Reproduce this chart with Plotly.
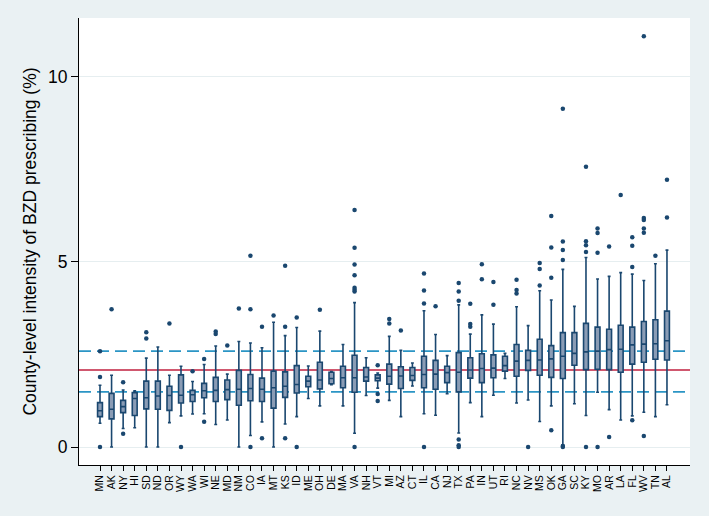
import plotly.graph_objects as go

states = ["MN", "AK", "NY", "HI", "SD", "ND", "OR", "WY", "WA", "WI",
          "NE", "MD", "NM", "CO", "IA", "MT", "KS", "ID", "ME", "OH",
          "DE", "MA", "VA", "NH", "VT", "MI", "AZ", "CT", "IL", "CA",
          "NJ", "TX", "PA", "IN", "UT", "RI", "NC", "NV", "MS", "OK",
          "GA", "SC", "KY", "MO", "AR", "LA", "FL", "WV", "TN", "AL"]

lower_whisker = [0.64, 0.00, 0.50, 0.52, 0.00, 0.00, 0.66, 0.84, 0.89, 0.90,
                 0.61, 0.73, 0.00, 0.31, 0.68, 0.00, 0.62, 0.82, 1.31, 1.11,
                 1.68, 1.11, 0.37, 1.39, 1.59, 1.26, 0.82, 1.65, 0.90, 0.86,
                 1.44, 0.38, 1.20, 0.82, 1.40, 1.85, 1.19, 1.27, 0.69, 1.11,
                 0.06, 1.17, 0.85, 1.48, 1.01, 0.73, 0.84, 0.94, 0.82, 1.14]

q1 = [0.82, 0.76, 0.93, 0.85, 1.03, 1.02, 0.99, 1.19, 1.23, 1.33,
      1.23, 1.28, 1.13, 1.25, 1.23, 1.05, 1.34, 1.46, 1.63, 1.57,
      1.71, 1.60, 1.48, 1.78, 1.79, 1.70, 1.58, 1.80, 1.60, 1.56,
      1.74, 1.49, 1.86, 1.74, 1.87, 2.05, 1.91, 2.07, 1.94, 1.88,
      1.85, 2.21, 2.09, 2.10, 2.09, 2.02, 2.24, 2.29, 2.37, 2.35]

median = [0.98, 1.02, 1.09, 1.31, 1.33, 1.38, 1.39, 1.40, 1.41, 1.52,
          1.53, 1.55, 1.56, 1.58, 1.56, 1.60, 1.64, 1.69, 1.78, 1.81,
          1.85, 1.87, 1.87, 1.89, 1.86, 1.91, 1.92, 1.93, 1.96, 1.97,
          2.01, 2.02, 2.08, 2.12, 2.13, 2.20, 2.32, 2.34, 2.35, 2.38,
          2.45, 2.53, 2.57, 2.59, 2.63, 2.64, 2.76, 2.78, 2.79, 2.87]

q3 = [1.20, 1.45, 1.26, 1.47, 1.78, 1.78, 1.64, 1.95, 1.53, 1.72,
      1.88, 1.81, 2.07, 1.96, 1.86, 2.05, 2.03, 2.20, 1.91, 2.29,
      2.02, 2.18, 2.48, 2.15, 1.95, 2.24, 2.17, 2.15, 2.45, 2.34,
      2.18, 2.55, 2.41, 2.52, 2.49, 2.45, 2.77, 2.61, 2.91, 2.74,
      3.09, 3.09, 3.34, 3.24, 3.18, 3.29, 3.24, 3.39, 3.44, 3.67]

upper_whisker = [1.67, 1.94, 1.54, 1.52, 2.40, 2.70, 1.94, 2.18, 1.77, 2.23,
                 2.73, 1.97, 2.85, 2.81, 2.68, 3.37, 3.01, 3.23, 2.19, 3.13,
                 2.04, 2.77, 3.90, 2.41, 2.00, 2.99, 2.61, 2.27, 3.68, 3.04,
                 2.47, 3.84, 3.05, 3.57, 3.32, 2.53, 3.79, 3.28, 4.22, 3.97,
                 4.80, 3.80, 5.12, 4.54, 4.61, 4.71, 4.67, 4.50, 4.95, 5.32]

outlier_state = (["MN"] * 3 + ["AK"] + ["NY"] * 2 + ["SD"] * 2 + ["OR"] + ["WY"] + ["WA"] +
                 ["WI"] * 2 + ["NE"] * 2 + ["MD"] + ["NM"] + ["CO"] * 3 + ["IA"] * 2 +
                 ["MT"] + ["KS"] * 3 + ["ID"] * 2 + ["OH"] + ["VA"] * 8 + ["VT"] * 3 +
                 ["MI"] * 2 + ["AZ"] + ["IL"] * 4 + ["CA"] + ["TX"] * 6 + ["PA"] * 3 +
                 ["IN"] * 2 + ["UT"] * 2 + ["NC"] * 3 + ["NV"] + ["MS"] * 3 + ["OK"] * 4 +
                 ["GA"] * 6 + ["KY"] * 5 + ["MO"] * 4 + ["AR"] * 2 + ["LA"] + ["FL"] * 4 +
                 ["WV"] * 6 + ["TN"] + ["AL"] * 2)

outlier_value = [1.89, 2.59, 0.00,
                 3.72,
                 1.75, 0.36,
                 3.10, 2.93,
                 3.34,
                 0.00,
                 2.05,
                 2.38, 0.68,
                 3.05, 3.12,
                 2.74,
                 3.74,
                 5.17, 3.72, 0.00,
                 3.25, 0.24,
                 3.55,
                 4.90, 3.25, 0.24,
                 3.50, 0.00,
                 3.71,
                 6.40, 5.38, 4.93, 4.64, 4.30, 4.25, 4.20, 0.00,
                 2.21, 1.43, 1.24,
                 3.46, 3.34,
                 3.15,
                 4.69, 4.23, 3.88, 0.00,
                 3.80,
                 4.43, 4.20, 3.95, 0.20, 0.05, 0.00,
                 3.87, 3.32, 3.25,
                 4.94, 4.53,
                 4.46, 3.84,
                 4.52, 4.24, 4.15,
                 0.00,
                 4.97, 4.81, 4.36,
                 6.24, 5.39, 4.57, 0.45,
                 9.14, 5.55, 5.32, 5.05, 0.03, 0.00,
                 7.57, 5.56, 5.45, 5.27, 0.00,
                 5.90, 5.78, 5.25, 0.00,
                 5.42, 0.27,
                 6.81,
                 5.67, 5.44, 4.86, 0.72,
                 11.10, 6.19, 6.13, 5.90, 5.79, 0.30,
                 5.17,
                 7.22, 6.20]

ref_mean = 2.08
ref_upper = 2.59
ref_lower = 1.49
y_ticks = [0, 5, 10]

NAVY = "#1a476f"
FILL = "#8a9cb5"
BG = "#eaf1f3"
FONT = "Liberation Sans, Arial, sans-serif"

fig = go.Figure()

fig.add_trace(go.Box(
    x=states, q1=q1, median=median, q3=q3,
    lowerfence=lower_whisker, upperfence=upper_whisker,
    boxpoints=False,
    fillcolor=FILL,
    line=dict(color=NAVY, width=1.6),
    whiskerwidth=0.6,
    showlegend=False,
    hoverinfo="skip",
))

fig.add_trace(go.Scatter(
    x=outlier_state, y=outlier_value, mode="markers",
    marker=dict(color=NAVY, size=4.5),
    showlegend=False, hoverinfo="skip",
))

for yv, col, dash in [(ref_mean, "#c0213f", "solid"),
                      (ref_upper, "#2b95c5", "12px,6px"),
                      (ref_lower, "#2b95c5", "12px,6px")]:
    fig.add_shape(type="line", xref="paper", x0=0, x1=1, yref="y", y0=yv, y1=yv,
                  line=dict(color=col, width=1.6, dash=dash), layer="below")

fig.update_layout(
    width=709, height=516,
    margin=dict(l=79, r=19, t=18, b=51),
    paper_bgcolor=BG, plot_bgcolor="white",
    boxgap=0.4,
    font=dict(family=FONT, color="black"),
)

fig.update_xaxes(
    type="category", categoryorder="array", categoryarray=states,
    tickmode="array", tickvals=states, ticktext=states,
    range=[-1.815, 50.99],
    showline=True, linecolor="black", linewidth=1,
    ticks="outside", ticklen=5, tickcolor="black", tickwidth=1,
    tickangle=-90, tickfont=dict(size=10.5, family=FONT),
    showgrid=False, zeroline=False,
)

fig.update_yaxes(
    range=[-0.486, 11.59],
    tickvals=y_ticks, ticktext=[str(v) for v in y_ticks],
    showline=True, linecolor="black", linewidth=1,
    ticks="outside", ticklen=7, tickcolor="black", tickwidth=1,
    tickfont=dict(size=17.5, family=FONT),
    showgrid=True, gridcolor="#e6eef0", gridwidth=1,
    zeroline=False,
    title=dict(text="County-level intensity of BZD prescribing (%)",
               font=dict(size=17.5, family=FONT), standoff=6),
)

fig.write_html("out.html",
               config={"displayModeBar": False},
               post_script="document.body.style.margin='0';document.body.style.background='%s';" % BG)
